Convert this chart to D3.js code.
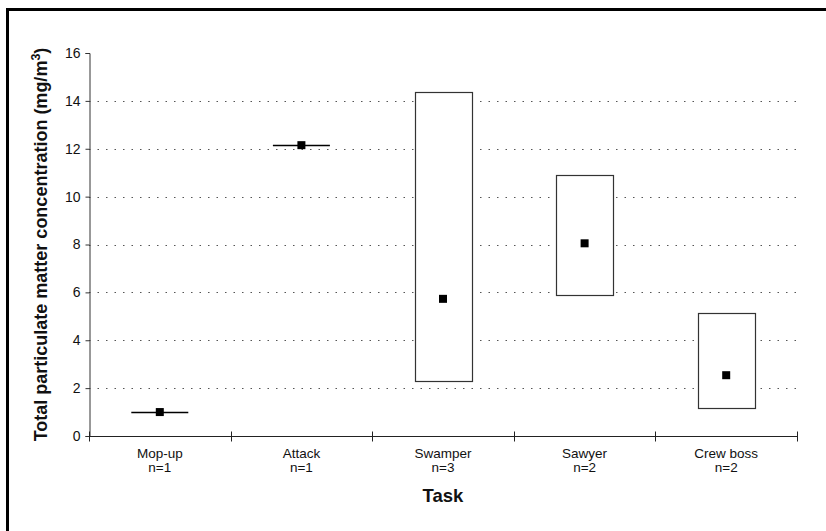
<!DOCTYPE html>
<html>
<head>
<meta charset="utf-8">
<script src="https://cdn.jsdelivr.net/npm/d3@7"></script>
<style>
  html, body { margin: 0; padding: 0; background: #fff; }
  svg { display: block; font-family: "Liberation Sans", Arial, sans-serif; }
</style>
</head>
<body>
<svg id="chart" width="826" height="531"></svg>
<script>
// Task groups with sample counts
const tasks = ["Mop-up", "Attack", "Swamper", "Sawyer", "Crew boss"];
const counts = [1, 1, 3, 2, 2];
// Mean, minimum and maximum concentration per task (mg/m3)
const means = [1.0, 12.15, 5.73, 8.05, 2.54];
const mins = [1.0, 12.15, 2.31, 5.9, 1.17];
const maxs = [1.0, 12.15, 14.36, 10.92, 5.15];
const yTicks = [0, 2, 4, 6, 8, 10, 12, 14, 16];

const svg = d3.select("#chart");
const margin = { left: 89, right: 29, top: 53, bottom: 95 };
const W = 826, H = 531;

// Outer frame
svg.append("rect")
  .attr("x", 7.5).attr("y", 9.5)
  .attr("width", 840).attr("height", 540)
  .attr("fill", "none").attr("stroke", "#000").attr("stroke-width", 3);

const x = d3.scaleBand().domain(tasks)
  .range([margin.left, W - margin.right]);
const y = d3.scaleLinear().domain([0, 16])
  .range([H - margin.bottom, margin.top]);

const g = svg.append("g");

// Dotted horizontal gridlines
g.selectAll(".grid").data(yTicks.filter(v => v > 0 && v < 16))
  .enter().append("line")
  .attr("x1", margin.left).attr("x2", W - margin.right)
  .attr("y1", d => Math.round(y(d)) + 0.5).attr("y2", d => Math.round(y(d)) + 0.5)
  .attr("stroke", "#555").attr("stroke-width", 1)
  .attr("stroke-dasharray", "1.5,7");

// Y axis
const yAxis = d3.axisLeft(y).tickValues(yTicks).tickSize(4).tickPadding(5)
  .tickFormat(d3.format("d"));
const yg = svg.append("g")
  .attr("transform", `translate(${margin.left + 0.5},0)`)
  .call(yAxis);
yg.select(".domain").attr("stroke", "#333");
yg.selectAll(".tick line").attr("stroke", "#333");
yg.selectAll(".tick text").attr("font-size", 14).attr("fill", "#111")
  .attr("font-family", "Liberation Sans, Arial, sans-serif");

// X axis with ticks at category boundaries
const xBase = Math.round(y(0)) + 0.5;
svg.append("line")
  .attr("x1", margin.left).attr("x2", W - margin.right)
  .attr("y1", xBase).attr("y2", xBase)
  .attr("stroke", "#222").attr("stroke-width", 1);
const bounds = tasks.map(t => x(t)).concat([x(tasks[tasks.length - 1]) + x.bandwidth()]);
svg.selectAll(".xtick").data(bounds).enter().append("line")
  .attr("x1", d => Math.round(d) + 0.5).attr("x2", d => Math.round(d) + 0.5)
  .attr("y1", xBase - 5).attr("y2", xBase + 5)
  .attr("stroke", "#222");

// Category labels
const labels = svg.append("g").selectAll("text").data(tasks).enter().append("text")
  .attr("x", d => x(d) + x.bandwidth() / 2)
  .attr("y", 458)
  .attr("text-anchor", "middle").attr("font-size", 13.5).attr("fill", "#111");
labels.append("tspan").text(d => d);
labels.append("tspan")
  .attr("x", d => x(d) + x.bandwidth() / 2).attr("dy", 13.5)
  .text((d, i) => "n=" + counts[i]);

// Range boxes (min-max) and mean markers
const boxW = 57;
const cx = d => x(d) + x.bandwidth() / 2;
tasks.forEach((t, i) => {
  if (maxs[i] > mins[i]) {
    svg.append("rect")
      .attr("x", Math.round(cx(t) - boxW / 2) + 0.5)
      .attr("y", Math.round(y(maxs[i])) + 0.5)
      .attr("width", boxW)
      .attr("height", Math.round(y(mins[i])) - Math.round(y(maxs[i])))
      .attr("fill", "#fff").attr("stroke", "#333").attr("stroke-width", 1.2);
  } else {
    svg.append("line")
      .attr("x1", cx(t) - boxW / 2).attr("x2", cx(t) + boxW / 2)
      .attr("y1", Math.round(y(means[i])) + 0.5).attr("y2", Math.round(y(means[i])) + 0.5)
      .attr("stroke", "#000").attr("stroke-width", 1.3);
  }
  svg.append("rect")
    .attr("x", cx(t) - 4).attr("y", y(means[i]) - 4)
    .attr("width", 8).attr("height", 8)
    .attr("fill", "#000");
});

// Axis titles
svg.append("text")
  .attr("transform", `translate(47,${(y(0) + y(16)) / 2}) rotate(-90)`)
  .attr("text-anchor", "middle")
  .attr("font-size", 18).attr("font-weight", "bold").attr("fill", "#111")
  .html('Total particulate matter concentration (mg/m<tspan dy="-7" font-size="12.5">3</tspan><tspan dy="7">)</tspan>');

svg.append("text")
  .attr("x", cx("Swamper")).attr("y", 502)
  .attr("text-anchor", "middle")
  .attr("font-size", 18.5).attr("font-weight", "bold").attr("fill", "#111")
  .text("Task");
</script>
</body>
</html>
